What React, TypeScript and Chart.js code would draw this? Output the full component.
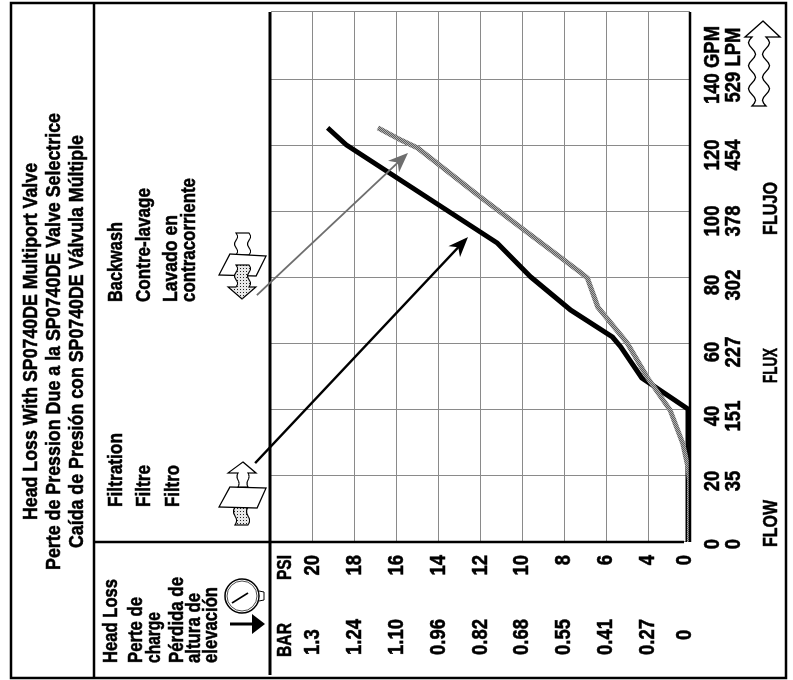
import React, { useEffect, useRef } from "react";
import { Chart, registerables } from "chart.js";

Chart.register(...registerables);

// ---- data ----
const titleLines = [
  "Head Loss With SP0740DE Multiport Valve",
  "Perte de Pression Due a la SP0740DE Valve Selectrice",
  "Caída de Presión con SP0740DE Válvula Múltiple",
];
const filtrationFlow = [0, 40.3, 49.7, 59.1, 62.1, 70.3, 80.3, 90.6, 120.3, 125.5];
const filtrationPsi = [0.2, 0.2, 4.3, 5.3, 5.7, 7.7, 9.6, 11.2, 18.4, 19.3];
const backwashFlow = [0, 18.8, 22.7, 30, 40, 50, 60.3, 71.2, 80, 81.8, 104.5, 119.4, 121.8, 125.5];
const backwashPsi = [0.05, 0.05, 0.2, 0.7, 1.9, 4.05, 5, 6.4, 6.9, 7.25, 12, 15, 15.8, 16.9];

const flowTicks = [0, 20, 40, 60, 80, 100, 120, 140];
const flowLabels = [["0", "0"], ["20", "35"], ["40", "151"], ["60", "227"], ["80", "302"], ["100", "378"], ["120", "454"], ["140 GPM", "529 LPM"]];
const psiLabels = ["0", "4", "6", "8", "10", "12", "14", "16", "18", "20"];
const barLabels = ["0", "0.27", "0.41", "0.55", "0.68", "0.82", "0.96", "1.10", "1.24", "1.3"];

// The printed axis has no "2": the step from 0 to 4 takes one grid cell.
const axisValue = (psi: number) => (psi < 4 ? 2 + psi / 2 : psi);
const tickIndex = (v: number) => (v - 2) / 2;

const FLOW_MAX = 160.6;
const PSI_TOP = 22;

// leader arrows, in flow / axis units
const filtrationArrow = { from: [23.9, 22.76], to: [92.4, 12.6] };
const backwashArrow = { from: [74.8, 22.67], to: [117.9, 15.46] };

const W = 680;
const H = 793;
const FONT = '"Liberation Sans"';

function makePattern(ctx: CanvasRenderingContext2D, size: number, paint: (c: CanvasRenderingContext2D) => void) {
  const c = document.createElement("canvas");
  c.width = size;
  c.height = size;
  paint(c.getContext("2d")!);
  return ctx.createPattern(c, "repeat")!;
}

const P = (px: number, py: number): [number, number] => [W - py, px];

// The source is set in a heavy condensed grotesque: condense and thicken every string.
function condenseText(ctx: CanvasRenderingContext2D) {
  const fill = ctx.fillText.bind(ctx);
  (ctx as any).fillText = (s: string, x: number, y: number, mw?: number) => {
    const w = mw ?? ctx.measureText(s).width * 0.84;
    fill(s, x, y, w);
    ctx.save();
    ctx.strokeStyle = "#000";
    ctx.lineWidth = 0.55;
    ctx.strokeText(s, x, y, w);
    ctx.restore();
  };
}

function panelPlugin(stipple: CanvasPattern) {
  return {
    id: "panel",
    afterUpdate(chart: any) {
      // individual nudges of printed labels
      const shiftX = [-2, -5, -6, -8, -7, -9, -9, 15];
      chart.scales.x.getLabelItems().forEach((it: any, i: number) => {
        if (shiftX[i] !== undefined) it.options.translation[0] += shiftX[i];
      });
      const p0 = chart.scales.y.getLabelItems()[0];
      if (p0) p0.options.translation[1] -= 5;
      const b0 = chart.scales.bar.getLabelItems()[0];
      if (b0) {
        b0.options.translation[0] += 15;
        b0.options.translation[1] -= 5;
      }
    },
    afterDraw(chart: any) {
      const ctx: CanvasRenderingContext2D = chart.ctx;
      ctx.save();
      const line = (pts: [number, number][], width: number, color = "#000", close = false, fill?: any) => {
        ctx.beginPath();
        pts.forEach((p, i) => {
          const [u, v] = P(p[0], p[1]);
          if (i) ctx.lineTo(u, v);
          else ctx.moveTo(u, v);
        });
        if (close) ctx.closePath();
        if (fill) {
          ctx.fillStyle = fill;
          ctx.fill();
        }
        if (width > 0) {
          ctx.lineWidth = width;
          ctx.strokeStyle = color;
          ctx.stroke();
        }
      };
      // frame
      line([[11, 3], [786, 3], [786, 678], [11, 678]], 2.5, "#000", true);
      line([[94, 3], [94, 678]], 2.5);
      line([[94, 542], [684, 542]], 2.5);
      line([[270, 12], [270, 675]], 2.8);
      line([[690, 12], [690, 542]], 2.5);

      // text
      ctx.fillStyle = "#000";
      ctx.textAlign = "left";
      ctx.textBaseline = "middle";
      const text = (s: string, px: number, start: number, end: number, size: number) => {
        ctx.font = `bold ${size}px ${FONT}`;
        ctx.fillStyle = "#000";
        const [u, v] = P(px, start);
        ctx.fillText(s, u, v + 1, start - end);
      };
      text(titleLines[0], 30, 520, 163, 21);
      text(titleLines[1], 53, 570, 113, 21);
      text(titleLines[2], 76, 548, 135, 21);
      text("Filtration", 115, 507, 433, 21);
      text("Filtre", 143, 507, 465, 21);
      text("Filtro", 172, 507, 465, 21);
      text("Backwash", 115, 302, 222, 21);
      text("Contre-lavage", 143, 302, 188, 21);
      text("Lavado en", 170, 302, 215, 21);
      text("contracorriente", 188, 302, 178, 21);
      text("Head Loss", 110, 663, 579, 21);
      text("Perte de", 135, 663, 597, 21);
      text("charge", 153, 663, 612, 21);
      text("Pérdida de", 176, 663, 577, 21);
      text("altura de", 193, 663, 593, 21);
      text("elevación", 210, 663, 587, 21);
      text("BAR", 284, 657, 623, 21);
      text("PSI", 284, 580, 555, 21);
      text("FLOW", 770, 547, 500, 21);
      text("FLUX", 770, 383, 348, 21);
      text("FLUJO", 770, 235, 182, 21);

      // leader arrows through the scales
      const arrow = (a: { from: number[]; to: number[] }, color: string, width: number) => {
        const x = chart.scales.x;
        const y = chart.scales.y;
        const ax = x.getPixelForValue(a.from[0]);
        const ay = y.getPixelForValue(a.from[1]);
        const bx = x.getPixelForValue(a.to[0]);
        const by = y.getPixelForValue(a.to[1]);
        const ang = Math.atan2(by - ay, bx - ax);
        ctx.save();
        ctx.translate(bx, by);
        ctx.rotate(ang);
        const len = Math.hypot(bx - ax, by - ay);
        ctx.strokeStyle = color;
        ctx.fillStyle = color;
        ctx.lineWidth = width;
        ctx.beginPath();
        ctx.moveTo(-len, 0);
        ctx.lineTo(-12, 0);
        ctx.stroke();
        ctx.beginPath();
        ctx.moveTo(0, 0);
        ctx.lineTo(-20, -8);
        ctx.lineTo(-14, 0);
        ctx.lineTo(-20, 8);
        ctx.closePath();
        ctx.fill();
        ctx.restore();
      };
      arrow(filtrationArrow, "#000", 2.4);
      arrow(backwashArrow, "#6e6e6e", 1.8);

      const wavy = (x: number, y0: number, y1: number, amp: number, waves: number): [number, number][] => {
        const pts: [number, number][] = [];
        for (let i = 0; i <= 24; i++) {
          const t = i / 24;
          pts.push([x + amp * Math.sin(t * waves * 2 * Math.PI), y0 + (y1 - y0) * t]);
        }
        return pts;
      };
      const plate = (dy: number) =>
        line([[230, 487 + dy], [266, 488 + dy], [257, 508 + dy], [219, 507 + dy]], 1.3, "#000", true, "#fff");

      // filtration icon
      line([...wavy(235, 498, 525, 1.5, 1.5), ...wavy(248, 525, 498, 1.5, 1.5)], 1.2, "#000", true, stipple);
      plate(0);
      line(
        [[243, 462], [256, 473], [249, 473], ...wavy(248, 473, 487, 1, 1), ...wavy(238, 487, 473, 1, 1), [228, 473]],
        1.2, "#000", true, "#fff"
      );
      // backwash icon
      line([...wavy(236, 233, 255, 1.5, 1.5), ...wavy(249, 255, 233, 1.5, 1.5)], 1.2, "#000", true, "#fff");
      line([[230, 254], [266, 256], [256, 276], [219, 275]], 1.3, "#000", true, "#fff");
      line(
        [[236, 265], [249, 265], ...wavy(249, 265, 287, 1.5, 1.5), [256, 287], [242, 299], [228, 287], ...wavy(236, 287, 265, 1.5, 1.5)],
        1.2, "#000", true, stipple
      );
      // gauge
      const [gu, gv] = P(242, 596);
      ctx.beginPath();
      ctx.arc(gu, gv, 17, 0, Math.PI * 2);
      ctx.lineWidth = 1.5;
      ctx.strokeStyle = "#000";
      ctx.stroke();
      ctx.beginPath();
      ctx.arc(gu, gv, 15, 0, Math.PI * 2);
      ctx.lineWidth = 0.7;
      ctx.stroke();
      line([[259, 591], [264, 592], [264, 600], [259, 601]], 1);
      line([[232, 603], [248, 593]], 1.6);
      line([[230, 624], [256, 624]], 3);
      line([[265, 624], [252, 614], [252, 634]], 0, "#000", true, "#000");
      // flow arrow
      line(
        [[763, 21], [780, 37], [768, 37], ...wavy(766, 37, 106, 3.5, 3), ...wavy(752, 106, 37, 3.5, 3), [745, 37]],
        1.3, "#000", true, "#fff"
      );
      ctx.restore();
    },
  };
}

export default function App() {
  const ref = useRef<HTMLCanvasElement>(null);
  useEffect(() => {
    const canvas = ref.current!;
    const ctx = canvas.getContext("2d")!;
    condenseText(ctx);
    const dither = makePattern(ctx, 2, (c) => {
      c.fillStyle = "#b0b0b0";
      c.fillRect(0, 0, 2, 2);
      c.fillStyle = "#5e5e5e";
      c.fillRect(0, 0, 1, 1);
      c.fillRect(1, 1, 1, 1);
    });
    const stipple = makePattern(ctx, 3, (c) => {
      c.fillStyle = "#e8e8e8";
      c.fillRect(0, 0, 3, 3);
      c.fillStyle = "#222";
      c.fillRect(0, 0, 1, 1);
    });
    const tickFont = { family: FONT, size: 22, weight: "bold" as const, lineHeight: 0.96 };
    const sparsePsi = [6, 10, 20];
    const psiTicks = (scale: any) => {
      scale.ticks = psiLabels.map((_, i) => ({ value: 2 + i * 2 }));
    };
    const chart = new Chart(canvas, {
      type: "line",
      data: {
        datasets: [
          {
            label: "Filtration",
            data: filtrationFlow.map((x, i) => ({ x, y: axisValue(filtrationPsi[i]) })),
            borderColor: "#000",
            borderWidth: 5,
            pointRadius: 0,
            tension: 0,
            order: 2,
          },
          {
            label: "Backwash",
            data: backwashFlow.map((x, i) => ({ x, y: axisValue(backwashPsi[i]) })),
            borderColor: dither,
            borderWidth: 5,
            pointRadius: 0,
            tension: 0,
            order: 1,
          },
        ],
      },
      options: {
        animation: false,
        responsive: false,
        layout: { padding: { left: 25, right: W - 668, top: 271, bottom: 0 } },
        plugins: { legend: { display: false }, title: { display: false }, tooltip: { enabled: false } },
        scales: {
          x: {
            type: "linear",
            min: 0,
            max: FLOW_MAX,
            afterBuildTicks: (s: any) => {
              s.ticks = [...flowTicks.map((value) => ({ value })), { value: FLOW_MAX }];
            },
            afterFit: (s: any) => {
              s.height = H - 690;
            },
            border: { display: false },
            grid: { color: "#8a8a8a", lineWidth: 1, drawTicks: false },
            ticks: {
              autoSkip: false,
              maxRotation: 0,
              minRotation: 0,
              padding: 12,
              color: "#000",
              font: tickFont,
              callback: (v: any) => flowLabels[flowTicks.indexOf(Number(v))] ?? "",
            },
          },
          y: {
            type: "linear",
            position: "left",
            weight: 0,
            min: 2,
            max: PSI_TOP,
            afterBuildTicks: psiTicks,
            afterFit: (s: any) => {
              s.width = 38;
            },
            border: { display: false },
            grid: {
              color: "#8a8a8a",
              lineWidth: 1,
              drawTicks: false,
              borderDash: (c: any) => (c.tick && sparsePsi.includes(c.tick.value) ? [5, 9] : []),
            } as any,
            ticks: {
              autoSkip: false,
              padding: 13,
              color: "#000",
              font: tickFont,
              callback: (v: any) => psiLabels[tickIndex(Number(v))] ?? "",
            },
          },
          bar: {
            type: "linear",
            position: "left",
            weight: 1,
            min: 2,
            max: PSI_TOP,
            afterBuildTicks: psiTicks,
            afterFit: (s: any) => {
              s.width = 75;
            },
            border: { display: false },
            grid: { display: false, drawTicks: false },
            ticks: {
              autoSkip: false,
              crossAlign: "far",
              padding: 0,
              color: "#000",
              font: tickFont,
              callback: (v: any) => barLabels[tickIndex(Number(v))] ?? "",
            },
          },
        },
      } as any,
      plugins: [panelPlugin(stipple)],
    });
    return () => chart.destroy();
  }, []);
  return (
    <div style={{ position: "absolute", left: 0, top: 0, width: 793, height: 680, overflow: "hidden", background: "#fff" }}>
      <div
        style={{
          position: "absolute",
          left: 0,
          top: 0,
          width: W,
          height: H,
          transformOrigin: "0 0",
          transform: `translate(0px, ${W}px) rotate(-90deg)`,
        }}
      >
        <canvas ref={ref} width={W} height={H} style={{ display: "block" }} />
      </div>
    </div>
  );
}
